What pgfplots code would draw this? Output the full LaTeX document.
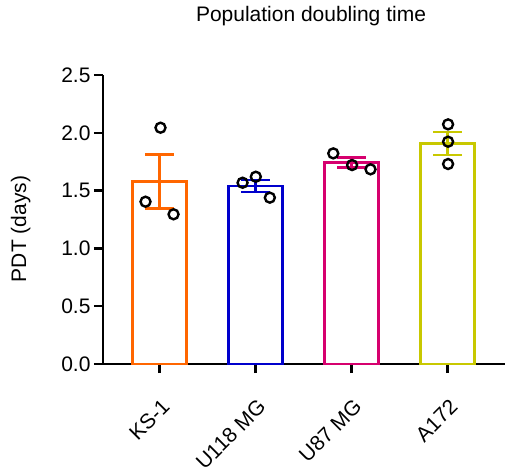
\documentclass[border=0pt]{standalone}
\usepackage{pgfplots}
\pgfplotsset{compat=1.18}
\usepackage{fontspec}
\setmainfont{Liberation Sans}
\definecolor{ksorange}{RGB}{255,102,0}
\definecolor{ublue}{RGB}{0,0,204}
\definecolor{upink}{RGB}{214,0,110}
\definecolor{ayellow}{RGB}{200,200,0}
\newcommand{\lbl}{\fontsize{21bp}{25bp}\selectfont}

\begin{document}
\begin{tikzpicture}
\begin{axis}[
    at={(0,0)}, anchor=south west, scale only axis,
    width=402bp, height=289bp,
    xmin=-0.589, xmax=3.599,
    ymin=0, ymax=2.5,
    clip=false,
    axis x line*=bottom, axis y line*=left,
    axis line style={line width=2.5bp, black},
    xtick={0,1,2,3},
    xticklabels={KS-1,U118 MG,U87 MG,A172},
    ytick={0,0.5,1,1.5,2,2.5},
    tick align=outside,
    major tick length=9bp,
    tick style={line width=2.5bp, black},
    /pgf/number format/assume math mode=true,
    yticklabel style={/pgf/number format/fixed, /pgf/number format/fixed zerofill,
        /pgf/number format/precision=1, font=\lbl},
    xticklabel style={rotate=45, anchor=north east, font=\lbl, xshift=-13.4bp, yshift=-14.9bp},
    title={Population doubling time},
    title style={at={(axis description cs:0.5,1)}, anchor=base, yshift=48bp, xshift=7bp, font=\lbl},
    ylabel={PDT (days)},
    ylabel style={at={(axis description cs:-0.205,0.467)}, anchor=center, font=\lbl},
]

% individual measurements
\addplot[only marks, mark=o, mark size=5bp, black, line width=2.4bp]
    coordinates {(0.01,2.044) (-0.146,1.404) (0.146,1.295)
                 (0.865,1.568) (1.003,1.62) (1.149,1.439)
                 (1.81,1.822) (2.006,1.721) (2.198,1.684)
                 (3.006,2.073) (3.006,1.923) (3.006,1.730)};

% means with SEM
\addplot[ybar, bar width=54bp, bar shift=0pt, draw=ksorange, fill=none, line width=2.5bp,
    error bars/.cd, y dir=both, y explicit,
    error bar style={line width=2.5bp, ksorange},
    error mark options={rotate=90, mark size=14.5bp, line width=2.5bp, ksorange}]
    coordinates {(0,1.58) +- (0,0.234)};
\addplot[ybar, bar width=54bp, bar shift=0pt, draw=ublue, fill=none, line width=2.5bp,
    error bars/.cd, y dir=both, y explicit,
    error bar style={line width=2.5bp, ublue},
    error mark options={rotate=90, mark size=14.5bp, line width=2.5bp, ublue}]
    coordinates {(1,1.54) +- (0,0.053)};
\addplot[ybar, bar width=54bp, bar shift=0pt, draw=upink, fill=none, line width=2.5bp,
    error bars/.cd, y dir=both, y explicit,
    error bar style={line width=2.5bp, upink},
    error mark options={rotate=90, mark size=14.5bp, line width=2.5bp, upink}]
    coordinates {(2,1.743) +- (0,0.042)};
\addplot[ybar, bar width=54bp, bar shift=0pt, draw=ayellow, fill=none, line width=2.5bp,
    error bars/.cd, y dir=both, y explicit,
    error bar style={line width=2.5bp, ayellow},
    error mark options={rotate=90, mark size=14.5bp, line width=2.5bp, ayellow}]
    coordinates {(3,1.909) +- (0,0.10)};

\end{axis}
\pgfresetboundingbox
\path (-103bp,-106bp) rectangle (403bp,364bp);
\end{tikzpicture}
\end{document}
